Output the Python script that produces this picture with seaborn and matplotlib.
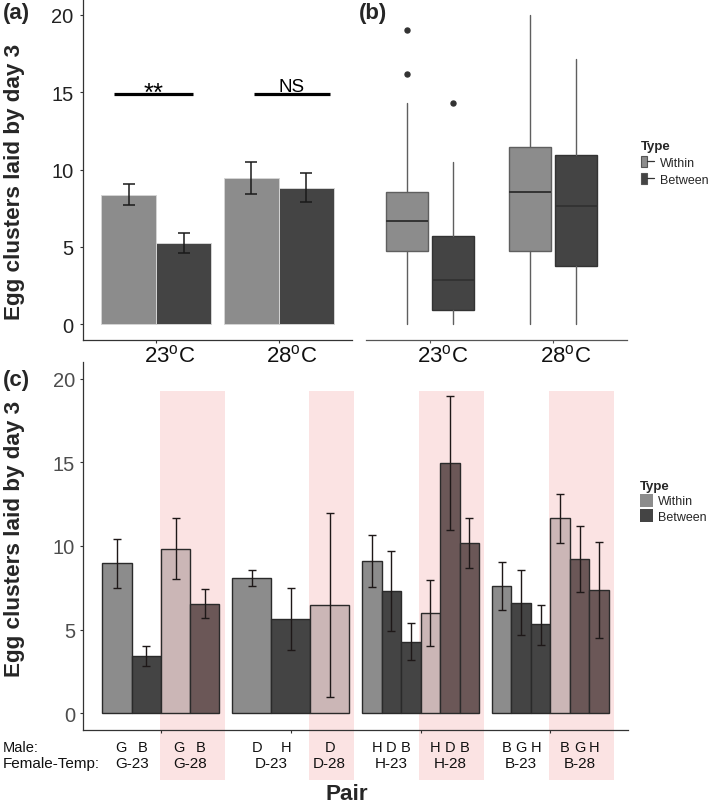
import matplotlib
matplotlib.use("Agg")
import numpy as np
import pandas as pd
import matplotlib.pyplot as plt
import seaborn as sns
from matplotlib.patches import Patch, Rectangle
from matplotlib.lines import Line2D
from matplotlib.legend_handler import HandlerTuple
from matplotlib import transforms

# ---------------- data ----------------
temps = ["23", "28"]
temp_labels = [r"23$^{\mathrm{o}}$C", r"28$^{\mathrm{o}}$C"]
types = ["Within", "Between"]

# panel (a): means with error bars (order: 23, 28)
a_within_mean = [8.37, 9.43]
a_within_lo = [7.72, 8.43]
a_within_hi = [9.04, 10.49]
a_between_mean = [5.22, 8.80]
a_between_lo = [4.57, 7.90]
a_between_hi = [5.87, 9.77]
a_sig = ["**", "NS"]

# panel (b): box statistics (23-Within, 23-Between, 28-Within, 28-Between)
b_temp = ["23", "23", "28", "28"]
b_type = ["Within", "Between", "Within", "Between"]
b_whislo = [0.0, 0.0, 0.0, 0.0]
b_q1 = [4.75, 0.91, 4.75, 3.78]
b_med = [6.69, 2.85, 8.57, 7.62]
b_q3 = [8.57, 5.72, 11.46, 10.96]
b_whishi = [14.29, 10.47, 20.0, 17.13]
b_fliers = [[16.2, 19.05], [14.29], [], []]

# panel (c): pair means with error bars
females = ["G", "D", "H", "B"]
c_female_temp = ["G-23", "G-23", "G-28", "G-28",
                 "D-23", "D-23", "D-28",
                 "H-23", "H-23", "H-23", "H-28", "H-28", "H-28",
                 "B-23", "B-23", "B-23", "B-28", "B-28", "B-28"]
c_male = ["G", "B", "G", "B",
          "D", "H", "D",
          "H", "D", "B", "H", "D", "B",
          "B", "G", "H", "B", "G", "H"]
c_mean = [8.98, 3.43, 9.84, 6.53,
          8.07, 5.64, 6.47,
          9.10, 7.33, 4.26, 5.98, 14.96, 10.18,
          7.59, 6.61, 5.32, 11.66, 9.24, 7.39]
c_lo = [7.49, 2.81, 8.01, 5.68,
        7.59, 3.80, 0.99,
        7.53, 4.90, 3.19, 4.02, 10.96, 8.67,
        6.17, 4.66, 4.10, 10.18, 7.27, 4.52]
c_hi = [10.44, 4.04, 11.69, 7.45,
        8.57, 7.51, 11.97,
        10.66, 9.72, 5.38, 7.95, 18.97, 11.67,
        9.03, 8.55, 6.49, 13.09, 11.20, 10.24]

# ---------------- style ----------------
sns.set_style("white")
plt.rcParams["font.family"] = ["Liberation Sans", "DejaVu Sans"]
plt.rcParams["mathtext.fontset"] = "custom"
plt.rcParams["mathtext.rm"] = "Liberation Sans"
plt.rcParams["mathtext.it"] = "Liberation Sans:italic"
plt.rcParams["mathtext.bf"] = "Liberation Sans:bold"

colors = {("Within", "23"): "#8c8c8c", ("Between", "23"): "#444444",
          ("Within", "28"): "#cbb6b6", ("Between", "28"): "#6b5757"}
band_color = "#fbe3e3"

W, H = 709, 804
fig = plt.figure(figsize=(W / 100, H / 100), dpi=100)


def fig_rect(l, t, r, b):
    return [l / W, 1 - b / H, (r - l) / W, (b - t) / H]


axa = fig.add_axes(fig_rect(83, 0.5, 352, 340.5))
axb = fig.add_axes(fig_rect(366, 0.5, 627, 340.5))
axc = fig.add_axes(fig_rect(83, 363, 628.3, 731))
for ax in (axa, axb, axc):
    ax.patch.set_alpha(0)


def temp_axis_labels(ax):
    """Draw the temperature labels under the x axis, shifted slightly right."""
    ax.set_xticks(range(len(temps)))
    ax.set_xticklabels([""] * len(temps))
    tr = transforms.blended_transform_factory(ax.transData, ax.transAxes) + \
        transforms.ScaledTranslation(13 / 100, -4.5 / 100, fig.dpi_scale_trans)
    for i, lab in enumerate(temp_labels):
        ax.text(i, 0, lab, transform=tr, ha="center", va="top", fontsize=16,
                color="#111111", clip_on=False)


# ---------------- panel (a) ----------------
dfa = pd.DataFrame({
    "temp": temps * 2,
    "type": ["Within"] * 2 + ["Between"] * 2,
    "mean": a_within_mean + a_between_mean,
    "lo": a_within_lo + a_between_lo,
    "hi": a_within_hi + a_between_hi,
})
sns.barplot(data=dfa, x="temp", y="mean", hue="type", order=temps, hue_order=types,
            palette={"Within": colors[("Within", "23")], "Between": colors[("Between", "23")]},
            width=0.9, dodge=True, errorbar=None, saturation=1,
            edgecolor="#d4d4d4", linewidth=0.7, legend=False, ax=axa)
for k, t in enumerate(types):
    sub = dfa[dfa["type"] == t]
    xs = np.arange(len(temps)) + (k - 0.5) * 0.45
    axa.errorbar(xs, sub["mean"], yerr=[sub["mean"] - sub["lo"], sub["hi"] - sub["mean"]],
                 fmt="none", ecolor="#1a1a1a", elinewidth=1.1, capsize=4.3, capthick=1.1)

sig_spans = [(-0.35, 0.30), (0.795, 1.418)]
for (x0, x1), s in zip(sig_spans, a_sig):
    axa.plot([x0, x1], [14.9, 14.9], color="black", lw=2.3, solid_capstyle="butt")
    if s == "NS":
        axa.text((x0 + x1) / 2, 15.08, s, ha="center", va="baseline", fontsize=13.5,
                 color="black")
    else:
        axa.text((x0 + x1) / 2, 14.5, s, ha="center", va="baseline", fontsize=18.5,
                 color="black")

axa.set_xlim(-0.6, 1.6)
axa.set_ylim(-1, 21)
axa.set_yticks([0, 5, 10, 15, 20])
temp_axis_labels(axa)
axa.set_xlabel("")
axa.set_ylabel("")
for s in ["top", "right"]:
    axa.spines[s].set_visible(False)
for s in ["left", "bottom"]:
    axa.spines[s].set_color("#333333")
    axa.spines[s].set_linewidth(0.9)
axa.tick_params(axis="y", left=True, length=2.2, width=0.8, color="#333333", pad=4.5,
                labelsize=14.5, labelcolor="#222222")
axa.tick_params(axis="x", bottom=True, length=2.2, width=0.8, color="#333333")

# ---------------- panel (b) ----------------
stats = []
positions = []
for i in range(len(b_q1)):
    stats.append(dict(whislo=b_whislo[i], q1=b_q1[i], med=b_med[i], q3=b_q3[i],
                      whishi=b_whishi[i], fliers=b_fliers[i]))
    positions.append(temps.index(b_temp[i]) + (types.index(b_type[i]) - 0.5) * 0.375)
bp = axb.bxp(stats, positions=positions, widths=0.3375, patch_artist=True,
             showcaps=False, manage_ticks=False,
             whiskerprops=dict(color="#5f5f5f", linewidth=1.0),
             medianprops=dict(color="#333333", linewidth=1.4),
             flierprops=dict(marker="o", markersize=3.6, markerfacecolor="#333333",
                             markeredgecolor="#333333"))
for i, box in enumerate(bp["boxes"]):
    box.set_facecolor(colors[(b_type[i], "23")])
    box.set_edgecolor("#5f5f5f" if b_type[i] == "Within" else "#333333")
    box.set_linewidth(1.0)

axb.set_xlim(-0.52, 1.6)
axb.set_ylim(-1, 21)
axb.set_yticks([])
temp_axis_labels(axb)
for s in ["top", "right", "left"]:
    axb.spines[s].set_visible(False)
axb.spines["bottom"].set_color("#555555")
axb.spines["bottom"].set_linewidth(0.9)
axb.tick_params(axis="x", bottom=True, length=2.2, width=0.8, color="#555555")

hb = [(Patch(facecolor=colors[(t, "23")], edgecolor="#555555", linewidth=0.8),
       Line2D([], [], color="#333333", linewidth=0.9)) for t in types]
fig.legend(hb, types, title="Type", loc="upper left",
           bbox_to_anchor=(641 / W, 1 - 141 / H), frameon=False,
           handler_map={tuple: HandlerTuple(ndivide=None)},
           fontsize=9, title_fontproperties={"weight": "bold", "size": 9.5},
           handlelength=1.0, handleheight=0.9, handletextpad=0.5, labelspacing=0.35,
           borderpad=0, borderaxespad=0, alignment="left")

# ---------------- panel (c) ----------------
c_female = [ft.split("-")[0] for ft in c_female_temp]
c_temp = [ft.split("-")[1] for ft in c_female_temp]
c_type = ["Within" if m == f else "Between" for m, f in zip(c_male, c_female)]
dfc = pd.DataFrame({"female": c_female, "temp": c_temp, "ftemp": c_female_temp,
                    "male": c_male, "type": c_type, "mean": c_mean, "lo": c_lo, "hi": c_hi})
dfc["bar"] = dfc["ftemp"] + ":" + dfc["male"]

trans_lab = transforms.blended_transform_factory(axc.transData, fig.transFigure)
y_male = 1 - 747.7 / H
y_ftemp = 1 - 764.3 / H

for gi, f in enumerate(females):
    sub = dfc[dfc["female"] == f]
    n = len(sub)
    xs = gi - 0.45 + (np.arange(n) + 0.5) * 0.9 / n
    pal = {b: colors[(ty, tp)] for b, ty, tp in zip(sub["bar"], sub["type"], sub["temp"])}
    sns.barplot(data=sub, x="female", y="mean", hue="bar", order=females,
                hue_order=list(sub["bar"]), palette=pal, width=0.9, dodge=True,
                errorbar=None, saturation=1, edgecolor="#2a2a2a", linewidth=1.0,
                legend=False, ax=axc, zorder=2)
    axc.errorbar(xs, sub["mean"], yerr=[sub["mean"] - sub["lo"], sub["hi"] - sub["mean"]],
                 fmt="none", ecolor="#1e1818", elinewidth=1.0, capsize=2.6, capthick=1.0,
                 zorder=3)
    for ft in sub["ftemp"].unique():
        mask = (sub["ftemp"] == ft).to_numpy()
        bx = xs[mask]
        center = bx.mean()
        if ft.endswith("28"):
            half = 0.45 / n
            axc.add_patch(Rectangle((bx.min() - half - 0.01, -4.0),
                                    (bx.max() - bx.min()) + 2 * half + 0.05, 23.25,
                                    facecolor=band_color, edgecolor="none", zorder=0,
                                    clip_on=False))
        axc.text(center, y_ftemp, ft, transform=trans_lab, ha="center", va="center",
                 fontsize=11, color="#111111", clip_on=False)
        for m, x in zip(sub["male"][mask], bx):
            axc.text(center + (x - center) * 0.75, y_male, m, transform=trans_lab,
                     ha="center", va="center", fontsize=10.5, color="#111111", clip_on=False)

axc.set_xlim(-0.6, 3.6)
axc.set_ylim(-1, 21)
axc.set_yticks([0, 5, 10, 15, 20])
axc.set_xticks(range(len(females)))
axc.set_xticklabels([""] * len(females))
axc.set_xlabel("")
axc.set_ylabel("")
for s in ["top", "right"]:
    axc.spines[s].set_visible(False)
for s in ["left", "bottom"]:
    axc.spines[s].set_color("#333333")
    axc.spines[s].set_linewidth(0.9)
    axc.spines[s].set_zorder(4)
axc.tick_params(axis="y", left=True, length=2.2, width=0.8, color="#333333", pad=3.5,
                labelsize=14.5, labelcolor="#4d4d4d")
axc.tick_params(axis="x", bottom=True, length=2.2, width=0.8, color="#333333")

hc = [Patch(facecolor=colors[(t, "23")], edgecolor="none") for t in types]
fig.legend(hc, types, title="Type", loc="upper left",
           bbox_to_anchor=(640 / W, 1 - 481 / H), frameon=False,
           fontsize=9, title_fontproperties={"weight": "bold", "size": 9.5},
           handlelength=1.05, handleheight=1.2, handletextpad=0.4, labelspacing=0.15,
           borderpad=0, borderaxespad=0, alignment="left")

fig.text(3 / W, y_male, "Male:", ha="left", va="center", fontsize=10.5, color="#111111")
fig.text(3 / W, y_ftemp, "Female-Temp:", ha="left", va="center", fontsize=11, color="#111111")

# ---------------- figure texts ----------------
ylab = "Egg clusters laid by day 3"
fig.text(15 / W, 1 - 181.6 / H, ylab, rotation=90, ha="center", va="center",
         fontsize=16.2, fontweight="bold")
fig.text(15 / W, 1 - 539 / H, ylab, rotation=90, ha="center", va="center",
         fontsize=16.2, fontweight="bold")
fig.text(347 / W, 1 - 795 / H, "Pair", ha="center", va="center", fontsize=16.2,
         fontweight="bold")
fig.text(16 / W, 1 - 14 / H, "(a)", ha="center", va="center", fontsize=16, fontweight="bold")
fig.text(373 / W, 1 - 13 / H, "(b)", ha="center", va="center", fontsize=16, fontweight="bold")
fig.text(16 / W, 1 - 381 / H, "(c)", ha="center", va="center", fontsize=16, fontweight="bold")

fig.savefig("out.png", dpi=100)
